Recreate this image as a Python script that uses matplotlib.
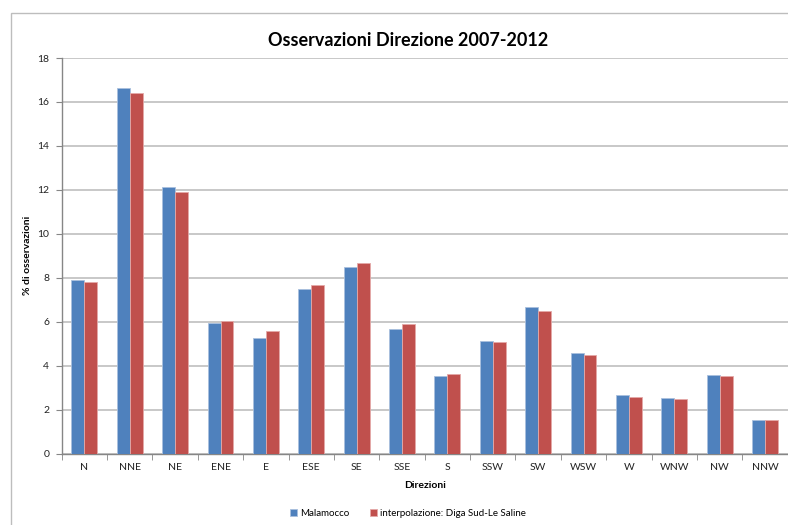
import matplotlib
matplotlib.use("Agg")
import matplotlib.pyplot as plt
import numpy as np
from matplotlib.patches import Rectangle

plt.rcParams['font.family'] = ['Lato', 'DejaVu Sans']

directions = ["N", "NNE", "NE", "ENE", "E", "ESE", "SE", "SSE",
              "S", "SSW", "SW", "WSW", "W", "WNW", "NW", "NNW"]
malamocco = [7.90, 16.65, 12.12, 5.95, 5.26, 7.49, 8.47, 5.67,
             3.51, 5.13, 6.67, 4.57, 2.68, 2.51, 3.57, 1.52]
diga_sud = [7.82, 16.42, 11.90, 6.03, 5.56, 7.67, 8.69, 5.88,
            3.60, 5.07, 6.47, 4.48, 2.59, 2.47, 3.51, 1.54]
series_names = ["Malamocco", "interpolazione: Diga Sud-Le Saline"]
y_ticks = [0, 2, 4, 6, 8, 10, 12, 14, 16, 18]

W, H = 788, 525
fig = plt.figure(figsize=(W / 100, H / 100), dpi=100)

# chart-area frame
fig.patches.append(Rectangle((11 / W, -0.05), 1.2, 1 - 13 / H + 0.05,
                             transform=fig.transFigure, fill=False,
                             edgecolor="#bdbdbd", linewidth=1.0))

ax = fig.add_axes([61.7 / W, 1 - 453.5 / H, (787.7 - 61.7) / W, (453.5 - 58) / H])

x = np.arange(len(directions))
bw = 0.285
blue = "#4F81BD"
red = "#C0504D"
ax.bar(x - bw / 2, malamocco, bw, color=blue, edgecolor="#a9c0de",
       linewidth=0.6, label=series_names[0], zorder=3)
ax.bar(x + bw / 2, diga_sud, bw, color=red, edgecolor="#e4a9a8",
       linewidth=0.6, label=series_names[1], zorder=3)

ax.set_xlim(-0.5, len(directions) - 0.5)
ax.set_ylim(0, 18)
ax.set_yticks(y_ticks)
ax.set_yticklabels([str(v) for v in y_ticks], fontsize=7.5, color="#222222")
ax.set_xticks(x)
ax.set_xticklabels(directions, fontsize=7.5, color="#222222")
ax.set_xticks(np.arange(-0.5, len(directions), 1), minor=True)

ax.grid(axis="y", color="#c4c4c4", linewidth=1.3, zorder=0)
ax.tick_params(axis="x", which="major", length=0, pad=7)
ax.tick_params(axis="x", which="minor", length=4, color="#868686", direction="out")
ax.tick_params(axis="y", length=4, color="#868686", pad=5)

for side in ["top", "right"]:
    ax.spines[side].set_visible(False)
for side in ["left", "bottom"]:
    ax.spines[side].set_color("#868686")
    ax.spines[side].set_linewidth(1.0)

ax.set_xlabel("Direzioni", fontsize=7.5, fontweight="bold", labelpad=6)
ax.set_ylabel("% di osservazioni", fontsize=7.5, fontweight="bold", labelpad=10)
ax.yaxis.set_label_coords(32 / W, 1 - 255 / H, transform=fig.transFigure)

fig.text(408 / W, 1 - 40 / H, "Osservazioni Direzione 2007-2012",
         fontsize=13, fontweight="bold", ha="center", va="center")

leg = fig.legend(loc="center", bbox_to_anchor=(408 / W, 1 - 513 / H), ncol=2,
                 frameon=False, fontsize=7.0, handlelength=0.7, handleheight=0.7,
                 handletextpad=0.3, columnspacing=2.2)

fig.savefig("out.png", dpi=100)
